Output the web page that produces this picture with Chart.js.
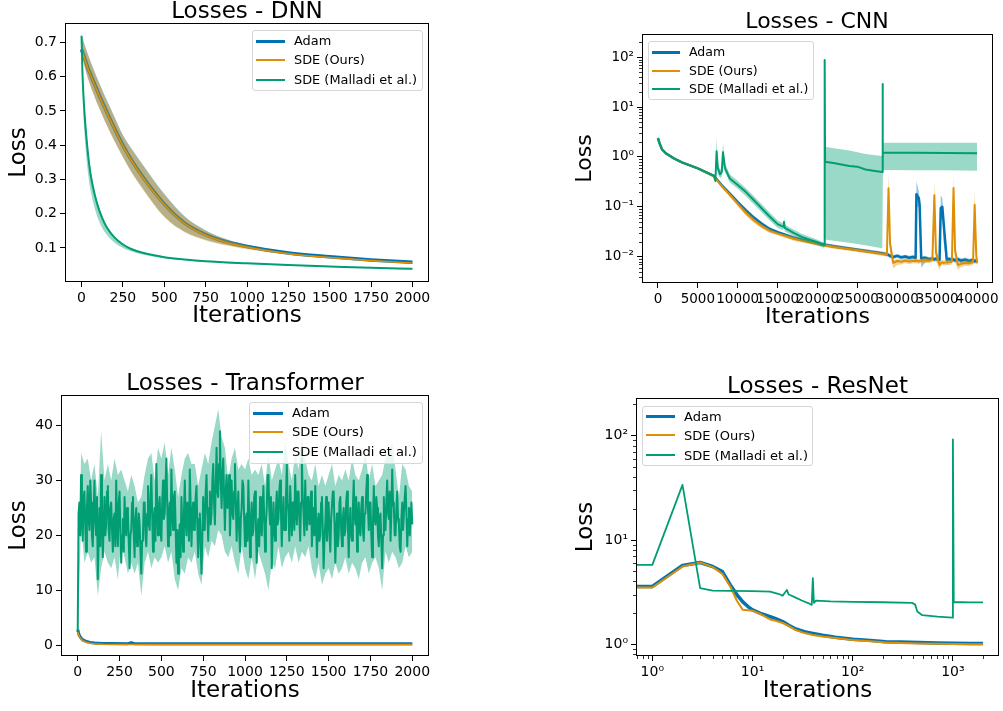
<!DOCTYPE html>
<html>
<head>
<meta charset="utf-8">
<title>Losses</title>
<script src="https://cdn.jsdelivr.net/npm/chart.js"></script>
<style>
  body { margin: 0; background: #fff; }
  #page { position: relative; width: 1003px; height: 711px; overflow: hidden; font-family: 'DejaVu Sans', sans-serif; color: #000; }
  canvas { position: absolute; }
  .title { position: absolute; width: 400px; text-align: center; white-space: nowrap; }
  .legend { position: absolute; box-sizing: border-box; border: 1px solid #d6d6d6; border-radius: 3px; background: rgba(255,255,255,0.8); }
  .legend .swatch { position: absolute; }
  .legend .label { position: absolute; white-space: nowrap; line-height: 1; transform: translateY(-50%); }
</style>
</head>
<body>
<div id="page">
  <canvas id="dnn" width="440" height="340" style="left:0px;top:0px"></canvas>
  <canvas id="cnn" width="443" height="340" style="left:560px;top:0px"></canvas>
  <canvas id="tr" width="440" height="351" style="left:0px;top:360px"></canvas>
  <canvas id="res" width="443" height="351" style="left:560px;top:360px"></canvas>
</div>

<script>
// ---- DNN ----
var dnnIter = [0, 10, 20, 30, 40, 50, 60, 80, 100, 125, 150, 200, 250, 300, 375, 500, 625, 750, 875, 1000, 1250, 1500, 1750, 2000];
var dnnAdam = [0.68, 0.666, 0.652, 0.638, 0.624, 0.612, 0.6, 0.577, 0.554, 0.526, 0.5, 0.448, 0.4, 0.358, 0.304, 0.228, 0.172, 0.139, 0.118, 0.104, 0.085, 0.074, 0.065, 0.058];
var dnnAdamHi = [0.724, 0.707, 0.692, 0.678, 0.664, 0.651, 0.638, 0.614, 0.59, 0.562, 0.535, 0.482, 0.43, 0.392, 0.34, 0.258, 0.192, 0.152, 0.126, 0.109, 0.088, 0.076, 0.066, 0.059];
var dnnAdamLo = [0.672, 0.647, 0.628, 0.61, 0.594, 0.58, 0.566, 0.541, 0.517, 0.489, 0.462, 0.412, 0.366, 0.324, 0.27, 0.192, 0.147, 0.124, 0.109, 0.098, 0.082, 0.072, 0.063, 0.057];
var dnnOurs = [0.678, 0.664, 0.65, 0.636, 0.622, 0.61, 0.598, 0.575, 0.552, 0.524, 0.498, 0.446, 0.398, 0.356, 0.302, 0.226, 0.17, 0.137, 0.116, 0.102, 0.083, 0.072, 0.063, 0.056];
var dnnOursHi = [0.722, 0.705, 0.69, 0.676, 0.662, 0.649, 0.636, 0.612, 0.588, 0.56, 0.533, 0.48, 0.428, 0.39, 0.338, 0.256, 0.19, 0.15, 0.124, 0.107, 0.086, 0.074, 0.064, 0.057];
var dnnOursLo = [0.67, 0.645, 0.626, 0.608, 0.592, 0.578, 0.564, 0.539, 0.515, 0.487, 0.46, 0.41, 0.364, 0.322, 0.268, 0.19, 0.145, 0.122, 0.107, 0.096, 0.08, 0.07, 0.061, 0.055];
var dnnMalIter = [0, 5, 10, 20, 30, 40, 50, 60, 80, 100, 125, 150, 200, 250, 300, 375, 500, 625, 750, 1000, 1250, 1500, 1750, 2000];
var dnnMal = [0.72, 0.62, 0.56, 0.48, 0.42, 0.37, 0.33, 0.3, 0.255, 0.22, 0.187, 0.162, 0.13, 0.11, 0.097, 0.085, 0.073, 0.066, 0.061, 0.055, 0.05, 0.046, 0.042, 0.039];
var dnnMalHi = [0.722, 0.64, 0.58, 0.5, 0.435, 0.385, 0.345, 0.312, 0.265, 0.228, 0.193, 0.167, 0.134, 0.113, 0.099, 0.087, 0.074, 0.067, 0.062, 0.056, 0.051, 0.047, 0.043, 0.04];
var dnnMalLo = [0.715, 0.58, 0.5, 0.42, 0.36, 0.315, 0.28, 0.255, 0.215, 0.185, 0.158, 0.14, 0.115, 0.1, 0.09, 0.08, 0.07, 0.064, 0.059, 0.053, 0.049, 0.045, 0.041, 0.037];
var dnnXTicks = [0, 250, 500, 750, 1000, 1250, 1500, 1750, 2000];
var dnnXLabels = ['0', '250', '500', '750', '1000', '1250', '1500', '1750', '2000'];
var dnnYTicks = [0.1, 0.2, 0.3, 0.4, 0.5, 0.6, 0.7];
var dnnYLabels = ['0.1', '0.2', '0.3', '0.4', '0.5', '0.6', '0.7'];

// ---- CNN ----
var cnnIter = [0, 200, 500, 1000, 2000, 3000, 5000, 7000, 8000, 9000,
  10000, 11000, 12000, 13000, 14000, 15000, 17000, 20000, 22000, 25000,
  28000, 28700, 28900, 29100, 29500, 30000, 30500, 31000, 31500, 32000,
  32300, 32400, 32700, 32800, 33000, 33500, 34000, 34400, 34650, 34850,
  35300, 35450, 35650, 35800, 36200, 36500, 36850, 37050, 37250, 37600,
  38000, 38500, 39000, 39500, 39700, 39900, 40000];
var cnnAdam = [2.4, 1.88, 1.43, 1.18, 0.94, 0.78, 0.59, 0.42, 0.27, 0.185,
  0.125, 0.086, 0.061, 0.046, 0.036, 0.031, 0.024, 0.0185, 0.0162, 0.0138,
  0.0118, 0.0112, 0.0109, 0.0103, 0.0099, 0.0104, 0.0097, 0.0101, 0.0095, 0.0099,
  0.0094, 0.18, 0.15, 0.11, 0.0092, 0.0095, 0.0089, 0.0092, 0.0088, 0.0091,
  0.0086, 0.095, 0.1, 0.05, 0.0087, 0.009, 0.0085, 0.0088, 0.0084, 0.0089,
  0.0083, 0.0087, 0.0082, 0.0086, 0.0081, 0.0084, 0.0079];
var cnnAdamHi = [2.5, 1.95, 1.48, 1.22, 0.97, 0.8, 0.61, 0.44, 0.29, 0.2,
  0.135, 0.094, 0.067, 0.05, 0.039, 0.033, 0.026, 0.02, 0.0175, 0.015,
  0.0128, 0.0122, 0.0118, 0.0112, 0.0108, 0.0113, 0.0106, 0.011, 0.0104, 0.0108,
  0.0103, 0.33, 0.2, 0.14, 0.0101, 0.0104, 0.0098, 0.0101, 0.0097, 0.01,
  0.0095, 0.17, 0.15, 0.07, 0.0096, 0.0099, 0.0094, 0.0097, 0.0093, 0.0098,
  0.0092, 0.0096, 0.0091, 0.0095, 0.009, 0.0093, 0.0088];
var cnnAdamLo = [2.3, 1.81, 1.38, 1.14, 0.91, 0.76, 0.57, 0.4, 0.25, 0.17,
  0.115, 0.079, 0.056, 0.042, 0.033, 0.029, 0.022, 0.017, 0.0149, 0.0127,
  0.0108, 0.0102, 0.0099, 0.0094, 0.009, 0.0095, 0.0088, 0.0092, 0.0086, 0.009,
  0.0085, 0.1, 0.1, 0.05, 0.006, 0.0076, 0.008, 0.0083, 0.0079, 0.0082,
  0.0077, 0.05, 0.06, 0.02, 0.0065, 0.0078, 0.0076, 0.0079, 0.0075, 0.008,
  0.0074, 0.0078, 0.0073, 0.0077, 0.0072, 0.0075, 0.0071];
var cnnOurs = [2.4, 1.88, 1.43, 1.18, 0.94, 0.78, 0.59, 0.41, 0.26, 0.175,
  0.115, 0.076, 0.054, 0.041, 0.033, 0.029, 0.023, 0.018, 0.0157, 0.0135,
  0.0114, 0.011, 0.235, 0.018, 0.0075, 0.0082, 0.0079, 0.0084, 0.008, 0.0083,
  0.0081, 0.0084, 0.008, 0.0083, 0.0082, 0.0085, 0.0083, 0.0086, 0.17, 0.012,
  0.0068, 0.0074, 0.0077, 0.0075, 0.0078, 0.0077, 0.008, 0.24, 0.013, 0.0068,
  0.0072, 0.0075, 0.0074, 0.0077, 0.11, 0.011, 0.0074];
var cnnOursHi = [2.5, 1.95, 1.48, 1.22, 0.97, 0.8, 0.61, 0.43, 0.28, 0.19,
  0.127, 0.085, 0.06, 0.045, 0.036, 0.031, 0.025, 0.0195, 0.017, 0.0146,
  0.0123, 0.0119, 0.47, 0.025, 0.0085, 0.0091, 0.0088, 0.0093, 0.0089, 0.0092,
  0.009, 0.0093, 0.0089, 0.0092, 0.0091, 0.0094, 0.0092, 0.0095, 0.33, 0.017,
  0.0078, 0.0083, 0.0086, 0.0084, 0.0087, 0.0086, 0.0089, 0.42, 0.018, 0.0078,
  0.0081, 0.0084, 0.0083, 0.0086, 0.22, 0.016, 0.0083];
var cnnOursLo = [2.3, 1.81, 1.38, 1.14, 0.91, 0.76, 0.57, 0.39, 0.24, 0.16,
  0.103, 0.067, 0.048, 0.037, 0.03, 0.027, 0.021, 0.0166, 0.0144, 0.0124,
  0.0105, 0.0101, 0.08, 0.011, 0.0058, 0.0068, 0.007, 0.0075, 0.0071, 0.0074,
  0.0072, 0.0075, 0.0071, 0.0074, 0.0073, 0.0076, 0.0074, 0.0077, 0.06, 0.008,
  0.0055, 0.0064, 0.0068, 0.0066, 0.0069, 0.0068, 0.0071, 0.09, 0.008, 0.0055,
  0.0062, 0.0066, 0.0065, 0.0068, 0.04, 0.008, 0.0064];
var cnnMalIter = [0, 200, 500, 1000, 2000, 3000, 5000, 7000, 7200, 7350,
  7500, 7800, 8000, 8150, 8400, 9000, 10000, 11000, 12000, 13000,
  14000, 15000, 15700, 15800, 15900, 17000, 18000, 19000, 20000, 20850,
  20900, 20950, 22000, 24000, 25000, 26000, 27000, 28100, 28150, 28200,
  32000, 36000, 40000];
var cnnMal = [2.4, 1.88, 1.43, 1.18, 0.94, 0.78, 0.59, 0.42, 0.33, 1.3,
  0.6, 0.45, 0.5, 1.25, 0.6, 0.37, 0.275, 0.2, 0.137, 0.094,
  0.064, 0.045, 0.04, 0.05, 0.038, 0.03, 0.025, 0.022, 0.0195, 0.017,
  88, 0.8, 0.76, 0.66, 0.64, 0.56, 0.53, 0.5, 29, 1.22,
  1.21, 1.2, 1.19];
var cnnMalHi = [2.5, 1.95, 1.48, 1.22, 0.97, 0.81, 0.61, 0.44, 0.35, 2.4,
  0.8, 0.55, 0.65, 1.9, 0.75, 0.45, 0.33, 0.24, 0.165, 0.113,
  0.077, 0.053, 0.047, 0.065, 0.044, 0.035, 0.029, 0.025, 0.022, 0.019,
  163, 1.61, 1.5, 1.35, 1.25, 1.15, 1.1, 1.05, 57, 1.94,
  1.93, 1.92, 1.92];
var cnnMalLo = [2.3, 1.81, 1.38, 1.14, 0.91, 0.75, 0.57, 0.4, 0.3, 0.7,
  0.45, 0.38, 0.4, 0.7, 0.5, 0.31, 0.23, 0.165, 0.113, 0.078,
  0.053, 0.038, 0.034, 0.039, 0.032, 0.026, 0.021, 0.019, 0.017, 0.015,
  0.0224, 0.0222, 0.021, 0.019, 0.018, 0.017, 0.0158, 0.0148, 0.55, 0.55,
  0.54, 0.54, 0.53];
var cnnXTicks = [0, 5000, 10000, 15000, 20000, 25000, 30000, 35000, 40000];
var cnnXLabels = ['0', '5000', '10000', '15000', '20000', '25000', '30000', '35000', '40000'];
var cnnYTicks = [0.01, 0.1, 1, 10, 100];
var cnnYLabels = ['10\u207B\u00B2', '10\u207B\u00B9', '10\u2070', '10\u00B9', '10\u00B2'];

// ---- Transformer (Malladi read every 5 iterations, its band every 20) ----
var trIter = [0, 5, 10, 20, 30, 50, 75, 100, 150, 200, 300, 320, 340, 500, 1000, 1500, 2000];
var trAdam = [2.8, 2.2, 1.7, 1.25, 0.95, 0.65, 0.48, 0.38, 0.3, 0.27, 0.25, 0.45, 0.25, 0.25, 0.25, 0.25, 0.25];
var trAdamHi = [3.2, 2.6, 2.1, 1.6, 1.25, 0.9, 0.7, 0.55, 0.45, 0.4, 0.38, 0.55, 0.38, 0.38, 0.38, 0.38, 0.38];
var trAdamLo = [2.4, 1.8, 1.3, 0.95, 0.7, 0.45, 0.3, 0.22, 0.16, 0.13, 0.12, 0.3, 0.12, 0.12, 0.12, 0.12, 0.12];
var trOurs = [2.4, 1.9, 1.5, 1.1, 0.8, 0.5, 0.32, 0.22, 0.14, 0.11, 0.09, 0.09, 0.09, 0.08, 0.08, 0.08, 0.08];
var trMal = [
  2.5, 24, 26, 20, 31, 24, 19, 27, 28, 22, 17, 25, 29, 23, 21, 30, 26, 20, 18, 24,
  30, 23, 20, 27, 12, 19, 25, 18, 31, 24, 16, 22, 27, 20, 22, 28, 29, 21, 19, 25,
  26, 21, 17, 23, 24, 18, 30, 22, 18, 26, 28, 21, 15, 20, 23, 17, 27, 22, 20, 25,
  24, 19, 14, 20, 21, 26, 27, 20, 16, 23, 25, 18, 19, 24, 22, 17, 13, 19, 20, 26,
  26, 20, 18, 24, 29, 22, 21, 27, 31, 24, 17, 23, 25, 19, 33, 26, 20, 25, 27, 21,
  19, 26, 30, 23, 24, 29, 34, 26, 18, 24, 26, 20, 32, 25, 21, 27, 28, 22, 15, 21,
  13, 19, 22, 16, 27, 21, 17, 24, 30, 23, 20, 26, 25, 19, 32, 26, 18, 24, 26, 21,
  21, 27, 29, 22, 16, 23, 24, 18, 13, 20, 27, 21, 22, 28, 31, 24, 19, 25, 28, 22,
  24, 30, 33, 26, 22, 29, 36, 28, 27, 33, 39, 30, 25, 31, 34, 27, 21, 28, 31, 25,
  26, 31, 20, 25, 30, 24, 23, 28, 33, 26, 19, 25, 28, 21, 17, 23, 25, 30, 29, 23,
  18, 23, 24, 19, 30, 24, 16, 22, 26, 20, 21, 27, 28, 22, 15, 21, 23, 18, 27, 22,
  20, 25, 29, 23, 17, 22, 25, 31, 31, 25, 22, 27, 14, 20, 26, 21, 19, 25, 28, 22,
  23, 28, 30, 24, 18, 24, 27, 21, 21, 27, 33, 26, 24, 19, 29, 25, 20, 26, 26, 21,
  31, 25, 22, 28, 28, 23, 19, 26, 34, 27, 24, 20, 30, 24, 21, 27, 27, 22, 23, 28,
  18, 23, 25, 20, 29, 23, 16, 21, 24, 19, 20, 26, 27, 21, 14, 19, 22, 27, 19, 24,
  26, 20, 17, 23, 23, 28, 28, 22, 15, 21, 24, 18, 20, 26, 27, 21, 18, 23, 25, 20,
  21, 26, 28, 22, 16, 22, 25, 20, 19, 25, 30, 24, 22, 27, 17, 23, 26, 21, 20, 25,
  27, 21, 19, 24, 24, 28, 31, 25, 21, 26, 26, 20, 16, 22, 29, 23, 22, 27, 25, 20,
  18, 23, 24, 19, 14, 20, 27, 22, 21, 26, 30, 24, 23, 28, 19, 24, 32, 26, 25, 20,
  20, 25, 28, 23, 22, 18, 17, 23, 26, 21, 21, 27, 29, 24, 18, 23, 25, 20, 23, 26,
  22];
var trMalHi = [
  3, 35, 33, 34, 30, 33, 27, 39, 30, 33,
  30, 34, 31, 32, 30, 28, 31, 29, 26, 27,
  31, 34, 35, 30, 36, 34, 37, 31, 36, 32,
  27, 31, 34, 35, 33, 33, 29, 32, 35, 33,
  37, 40, 43, 38, 36, 30, 34, 36, 32, 33,
  32, 34, 31, 32, 31, 33, 29, 35, 30, 32,
  34, 31, 37, 33, 30, 35, 32, 38, 34, 31,
  30, 33, 29, 31, 29, 31, 33, 29, 31, 30,
  32, 30, 34, 31, 30, 32, 35, 30, 33, 29,
  30, 31, 34, 35, 37, 32, 27, 33, 32, 29,
  28];
var trMalLo = [
  2, 22, 15, 17, 15, 16, 9, 14, 17, 15,
  14, 16, 12, 19, 16, 13, 15, 13, 15, 9,
  15, 17, 14, 16, 15, 16, 18, 15, 17, 12,
  10, 14, 13, 16, 15, 17, 13, 11, 18, 16,
  19, 18, 21, 20, 17, 16, 18, 15, 13, 18,
  14, 12, 16, 12, 17, 15, 13, 10, 15, 14,
  18, 14, 16, 17, 15, 18, 15, 17, 16, 18,
  14, 12, 15, 11, 13, 14, 12, 15, 13, 14,
  16, 13, 15, 14, 12, 15, 16, 13, 15, 16,
  14, 10, 17, 15, 17, 16, 14, 15, 18, 16,
  17];
var trMalIter = Array.from({length: trMal.length}, function (_, i) { return i * 5; });
var trBandIter = Array.from({length: trMalHi.length}, function (_, i) { return i * 20; });
var trXTicks = [0, 250, 500, 750, 1000, 1250, 1500, 1750, 2000];
var trXLabels = ['0', '250', '500', '750', '1000', '1250', '1500', '1750', '2000'];
var trYTicks = [0, 10, 20, 30, 40];
var trYLabels = ['0', '10', '20', '30', '40'];

// ---- ResNet (log-log; iteration 0 sits at the left edge) ----
var resIter = [0.5, 1, 2, 3, 4, 5, 6, 7, 8, 9, 10, 12, 15, 17, 20, 23, 27, 33, 40, 50, 67, 100, 150, 213, 300, 457, 700, 1000, 1500, 2000];
var resAdam = [3.58, 3.58, 5.69, 6.08, 5.57, 4.98, 3.71, 2.98, 2.55, 2.3, 2.14, 1.98, 1.84, 1.76, 1.65, 1.52, 1.4, 1.32, 1.27, 1.22, 1.17, 1.12, 1.09, 1.06, 1.05, 1.04, 1.03, 1.025, 1.02, 1.02];
var resOurs = [3.5, 3.5, 5.57, 6.08, 5.5, 4.73, 3.58, 2.6, 2.14, 2.12, 2.1, 1.95, 1.73, 1.68, 1.6, 1.5, 1.37, 1.28, 1.23, 1.19, 1.15, 1.1, 1.07, 1.04, 1.03, 1.02, 1.01, 1.005, 1.0, 1.0];
var resMalIter = [0.5, 1, 2, 3, 4, 6, 10, 15, 18, 20, 21, 22, 23, 26, 31, 37, 39, 40, 41, 43, 60, 100, 200, 390, 420, 441, 494, 700, 990, 1000, 1020, 1200, 1500, 2000];
var resMal = [5.78, 5.78, 33.8, 3.45, 3.27, 3.25, 3.24, 3.2, 3.05, 2.93, 3.12, 3.32, 3.0, 2.85, 2.63, 2.45, 2.39, 4.3, 2.5, 2.62, 2.58, 2.55, 2.53, 2.5, 2.4, 2.06, 1.9, 1.84, 1.8, 92, 2.53, 2.53, 2.52, 2.52];
var resXTicks = [1, 10, 100, 1000];
var resXLabels = ['10\u2070', '10\u00B9', '10\u00B2', '10\u00B3'];
var resYTicks = [1, 10, 100];
var resYLabels = ['10\u2070', '10\u00B9', '10\u00B2'];

var FONT = "'DejaVu Sans', sans-serif";
var BLUE = '#0173b2', ORANGE = '#de8f05', GREEN = '#029e73';
var BLUE_BAND = 'rgba(1,115,178,0.4)', ORANGE_BAND = 'rgba(222,143,5,0.4)', GREEN_BAND = 'rgba(2,158,115,0.4)';

function pts(xs, ys) {
  return xs.map(function (x, i) { return {x: x, y: ys[i]}; });
}
function lineSet(label, xs, ys, color, width, order, smooth) {
  return {label: label, data: pts(xs, ys), borderColor: color, borderWidth: width, pointRadius: 0,
    fill: false, order: order, borderJoinStyle: 'round', cubicInterpolationMode: smooth ? 'monotone' : 'default'};
}
// upper edge fills down to the lower edge (next dataset)
function bandSets(xs, hi, lo, color, order, smooth) {
  var mode = smooth ? 'monotone' : 'default';
  return [
    {data: pts(xs, hi), borderColor: 'transparent', borderWidth: 0, backgroundColor: color, pointRadius: 0, fill: '+1', order: order, cubicInterpolationMode: mode},
    {data: pts(xs, lo), borderColor: 'transparent', borderWidth: 0, pointRadius: 0, fill: false, order: order, cubicInterpolationMode: mode}
  ];
}

function logMinors(lo, hi) {
  var out = [];
  for (var e = -4; e <= 4; e++) {
    for (var m = 2; m <= 9; m++) {
      var v = m * Math.pow(10, e);
      if (v > lo && v < hi) out.push(v);
    }
  }
  return out;
}

// axes frame + minor log ticks
var frame = {
  id: 'frame',
  afterDraw: function (chart, args, opts) {
    var ctx = chart.ctx, a = chart.chartArea;
    ctx.save();
    ctx.strokeStyle = '#000';
    ctx.lineWidth = 0.8;
    ctx.beginPath();
    (opts.minorX || []).forEach(function (v) {
      var p = Math.round(chart.scales.x.getPixelForValue(v)) + 0.5;
      if (p < a.left || p > a.right) return;
      ctx.moveTo(p, a.bottom); ctx.lineTo(p, a.bottom + 3);
    });
    (opts.minorY || []).forEach(function (v) {
      var p = Math.round(chart.scales.y.getPixelForValue(v)) + 0.5;
      if (p < a.top || p > a.bottom) return;
      ctx.moveTo(a.left, p); ctx.lineTo(a.left - 3, p);
    });
    ctx.stroke();
    ctx.lineWidth = 1;
    ctx.strokeRect(Math.round(a.left) + 0.5, Math.round(a.top) + 0.5, Math.round(a.right - a.left) - 1, Math.round(a.bottom - a.top) - 1);
    ctx.restore();
  }
};

function axis(o, horizontal) {
  return {
    type: o.type, min: o.min, max: o.max, bounds: 'data',
    afterBuildTicks: function (s) { s.ticks = o.ticks.map(function (v) { return {value: v}; }); },
    afterFit: function (s) { if (horizontal) s.height = o.size; else s.width = o.size; },
    grid: {drawOnChartArea: false, drawTicks: true, tickLength: 5, color: '#000', lineWidth: 1},
    border: {display: false},
    ticks: {color: '#000', font: {family: FONT, size: o.tickSize}, padding: 3, maxRotation: 0, minRotation: 0, autoSkip: false,
      callback: function (v, i) { return o.labels[i]; }},
    title: {display: true, text: o.title, color: '#000', font: {family: FONT, size: o.titleSize},
      padding: horizontal ? {top: 0, bottom: o.titlePad} : {top: o.titlePad, bottom: 0}}
  };
}

function makeChart(id, o) {
  return new Chart(document.getElementById(id), {
    type: 'line',
    data: {datasets: o.datasets},
    options: {
      responsive: false, animation: false, devicePixelRatio: 1, events: [],
      layout: {padding: {left: 0, top: o.padTop, right: o.padRight, bottom: 0}},
      plugins: {legend: {display: false}, tooltip: {enabled: false}, frame: {minorX: o.minorX, minorY: o.minorY}},
      scales: {x: axis(o.x, true), y: axis(o.y, false)}
    },
    plugins: [frame]
  });
}

makeChart('dnn', {
  padTop: 23, padRight: 11,
  datasets: [].concat(
    [lineSet('SDE (Malladi et al.)', dnnMalIter, dnnMal, GREEN, 2, 0, true)],
    bandSets(dnnMalIter, dnnMalHi, dnnMalLo, GREEN_BAND, 1, true),
    [lineSet('SDE (Ours)', dnnIter, dnnOurs, ORANGE, 1.6, 2, true)],
    bandSets(dnnIter, dnnOursHi, dnnOursLo, ORANGE_BAND, 3, true),
    [lineSet('Adam', dnnIter, dnnAdam, BLUE, 3.5, 4, true)],
    bandSets(dnnIter, dnnAdamHi, dnnAdamLo, BLUE_BAND, 5, true)
  ),
  x: {type: 'linear', min: -100, max: 2100, ticks: dnnXTicks, labels: dnnXLabels, size: 58, tickSize: 14, title: 'Iterations', titleSize: 23, titlePad: 10},
  y: {type: 'linear', min: 0.0005, max: 0.757, ticks: dnnYTicks, labels: dnnYLabels, size: 65, tickSize: 14, title: 'Loss', titleSize: 23, titlePad: 5}
});

makeChart('cnn', {
  padTop: 34, padRight: 10,
  minorY: logMinors(0.00297, 293),
  datasets: [].concat(
    [lineSet('SDE (Malladi et al.)', cnnMalIter, cnnMal, GREEN, 2, 0)],
    bandSets(cnnMalIter, cnnMalHi, cnnMalLo, GREEN_BAND, 1),
    [lineSet('SDE (Ours)', cnnIter, cnnOurs, ORANGE, 2, 2)],
    bandSets(cnnIter, cnnOursHi, cnnOursLo, ORANGE_BAND, 3),
    [lineSet('Adam', cnnIter, cnnAdam, BLUE, 2.5, 4)],
    bandSets(cnnIter, cnnAdamHi, cnnAdamLo, BLUE_BAND, 5)
  ),
  x: {type: 'linear', min: -2000, max: 42000, ticks: cnnXTicks, labels: cnnXLabels, size: 57, tickSize: 13.5, title: 'Iterations', titleSize: 22, titlePad: 10},
  y: {type: 'logarithmic', min: 0.00297, max: 293, ticks: cnnYTicks, labels: cnnYLabels, size: 82, tickSize: 13.5, title: 'Loss', titleSize: 22, titlePad: 12}
});

makeChart('tr', {
  padTop: 35, padRight: 11,
  datasets: [].concat(
    [lineSet('SDE (Malladi et al.)', trMalIter, trMal, GREEN, 2, 0)],
    bandSets(trBandIter, trMalHi, trMalLo, GREEN_BAND, 1),
    [lineSet('SDE (Ours)', trIter, trOurs, ORANGE, 1.6, 2)],
    [lineSet('Adam', trIter, trAdam, BLUE, 3, 4)],
    bandSets(trIter, trAdamHi, trAdamLo, BLUE_BAND, 5)
  ),
  x: {type: 'linear', min: -100, max: 2100, ticks: trXTicks, labels: trXLabels, size: 55, tickSize: 14, title: 'Iterations', titleSize: 23, titlePad: 6},
  y: {type: 'linear', min: -2, max: 45.6, ticks: trYTicks, labels: trYLabels, size: 61, tickSize: 14, title: 'Loss', titleSize: 23, titlePad: 5}
});

makeChart('res', {
  padTop: 38, padRight: 4,
  minorX: logMinors(0.687, 2884),
  minorY: logMinors(0.772, 230),
  datasets: [
    lineSet('SDE (Malladi et al.)', resMalIter, resMal, GREEN, 1.8, 0),
    lineSet('SDE (Ours)', resIter, resOurs, ORANGE, 2, 1),
    lineSet('Adam', resIter, resAdam, BLUE, 3.5, 2)
  ],
  x: {type: 'logarithmic', min: 0.687, max: 2884, ticks: resXTicks, labels: resXLabels, size: 55, tickSize: 14, title: 'Iterations', titleSize: 23, titlePad: 6},
  y: {type: 'logarithmic', min: 0.772, max: 230, ticks: resYTicks, labels: resYLabels, size: 76, tickSize: 14, title: 'Loss', titleSize: 23, titlePad: 12}
});

// titles and legends as page text
var page = document.getElementById('page');
var titles = [
  {text: 'Losses - DNN', center: 247, top: -1, size: 23},
  {text: 'Losses - CNN', center: 817, top: 10, size: 22},
  {text: 'Losses - Transformer', center: 245, top: 370.5, size: 23},
  {text: 'Losses - ResNet', center: 817.5, top: 374, size: 23}
];
titles.forEach(function (t) {
  var d = document.createElement('div');
  d.className = 'title';
  d.textContent = t.text;
  d.style.left = (t.center - 200) + 'px';
  d.style.top = t.top + 'px';
  d.style.fontSize = t.size + 'px';
  d.style.lineHeight = t.size + 'px';
  page.appendChild(d);
});

var legendItems = [
  {label: 'Adam', color: BLUE, width: 3},
  {label: 'SDE (Ours)', color: ORANGE, width: 2},
  {label: 'SDE (Malladi et al.)', color: GREEN, width: 2}
];
var legends = [
  {left: 252, top: 30, width: 171, height: 61, first: 10, gap: 19.3, hx: 3, hl: 29, tx: 41, size: 12.9},
  {left: 648, top: 41, width: 166, height: 59, first: 10, gap: 18.7, hx: 3, hl: 28, tx: 40, size: 12.5},
  {left: 249, top: 402, width: 174, height: 62, first: 10, gap: 19.3, hx: 3, hl: 30, tx: 42, size: 13.1},
  {left: 642, top: 406, width: 171, height: 60, first: 9, gap: 19.3, hx: 3, hl: 29, tx: 41, size: 13}
];
legends.forEach(function (g) {
  var box = document.createElement('div');
  box.className = 'legend';
  box.style.left = g.left + 'px';
  box.style.top = g.top + 'px';
  box.style.width = g.width + 'px';
  box.style.height = g.height + 'px';
  legendItems.forEach(function (it, i) {
    var cy = Math.round(g.first + i * g.gap);
    var sw = document.createElement('div');
    sw.className = 'swatch';
    sw.style.left = g.hx + 'px';
    sw.style.width = g.hl + 'px';
    sw.style.top = (cy - Math.floor(it.width / 2)) + 'px';
    sw.style.height = it.width + 'px';
    sw.style.background = it.color;
    box.appendChild(sw);
    var lb = document.createElement('div');
    lb.className = 'label';
    lb.textContent = it.label;
    lb.style.left = g.tx + 'px';
    lb.style.top = cy + 'px';
    lb.style.fontSize = g.size + 'px';
    box.appendChild(lb);
  });
  page.appendChild(box);
});
</script>
</body>
</html>
